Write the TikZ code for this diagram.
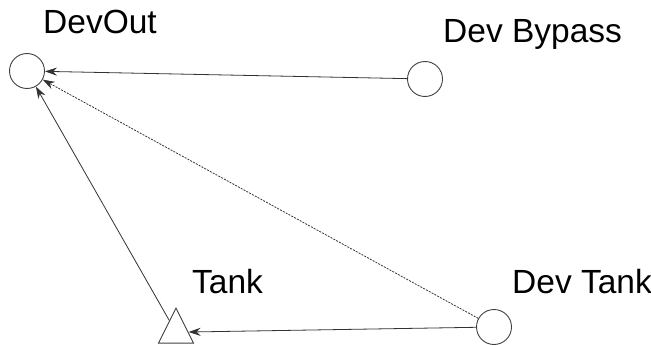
\documentclass[tikz,border=0pt]{standalone}
\usepackage{fontspec}
\setmainfont{Liberation Sans}
\usetikzlibrary{shapes.geometric,arrows.meta}
\begin{document}
\begin{tikzpicture}[x=1pt,y=-1pt,
  place/.style={circle,draw=black!75,line width=0.9pt,minimum size=35pt,inner sep=0pt},
  tri/.style={isosceles triangle,shape border rotate=90,isosceles triangle stretches,draw=black!75,line width=0.9pt,minimum width=35pt,minimum height=35pt,inner sep=0pt},
  lbl/.style={font=\fontsize{33.5}{38}\selectfont,anchor=base west,inner sep=0pt},
  arc/.style={draw=black!80,line width=0.8pt,-{Stealth[length=12pt,width=8pt]}},
  dasharc/.style={arc,dash pattern=on 2pt off 1.2pt}]
\useasboundingbox (0,0) rectangle (651,345);
\node[place] (devout) at (27,71) {};
\node[place] (bypass) at (425,79) {};
\node[place] (devtank) at (494,327) {};
\node[tri,anchor=south] (tank) at (176,343.5) {};
\node[lbl] (ldevout) at (43,34) {DevOut};
\node[lbl] (lbypass) at (443,43) {Dev Bypass};
\node[lbl] (ltank) at (192,293) {Tank};
\node[lbl] (ldevtank) at (512,293) {Dev Tank};
\draw[arc] (bypass) -- (devout);
\draw[arc] (tank) -- (devout);
\draw[dasharc] (devtank) -- (devout);
\draw[arc] (devtank) -- (tank);
\end{tikzpicture}
\end{document}
